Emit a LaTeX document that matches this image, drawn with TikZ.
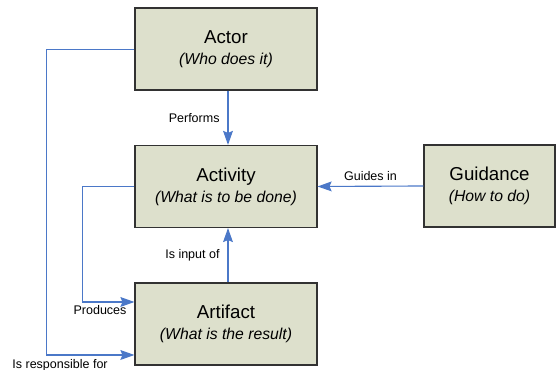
\documentclass[tikz,border=0pt]{standalone}
\usepackage{fontspec}
\setmainfont{Liberation Sans}
\usepackage{tikz}
\usetikzlibrary{arrows.meta}

\definecolor{boxfill}{RGB}{221,224,204}
\definecolor{boxline}{RGB}{50,50,50}
\definecolor{linkblue}{RGB}{75,120,200}

\tikzset{
  concept/.style={draw=boxline, fill=boxfill, line width=0.8pt, minimum width=4.55cm, minimum height=2.05cm, align=center, font=\fontsize{13.3}{15}\selectfont},
  relation/.style={draw=linkblue, line width=0.8pt, arrows = {-Stealth[length=10pt, width=7pt, inset=1.5pt]}},
  rellabel/.style={font=\fontsize{8.9}{10}\selectfont, text=black}
}
\newcommand{\conceptsub}[1]{{\fontsize{11.2}{13}\selectfont\itshape #1}}

\begin{document}
\begin{tikzpicture}
\useasboundingbox (0, 0) rectangle (13.9, 9.25);
\node[concept] (actor) at (5.65, 8.025) {Actor\\ \conceptsub{(Who does it)}};
\node[concept] (activity) at (5.65, 4.5875) {Activity\\ \conceptsub{(What is to be done)}};
\node[concept] (artifact) at (5.65, 1.15) {Artifact\\ \conceptsub{(What is the result)}};
\node[concept, minimum width=3.275cm] (guidance) at (12.2375, 4.6) {Guidance\\ \conceptsub{(How to do)}};
\draw[relation] ([xshift=0.05cm]actor.south) -- ([xshift=0.05cm]activity.north) node[midway, left, rellabel, xshift=-0.08cm] {Performs};
\draw[relation] (guidance.west) -- (activity.east) node[midway, above, rellabel, yshift=0.02cm] {Guides in};
\draw[relation] ([xshift=0.05cm]artifact.north) -- ([xshift=0.05cm]activity.south) node[midway, left, rellabel, xshift=-0.08cm] {Is input of};
\draw[relation] (activity.west) -- ++(-1.3, 0) |- ([yshift=0.55cm]artifact.west) node[anchor=north east, rellabel, inner sep=1pt, xshift=-0.15cm, yshift=-0.03cm] {Produces};
\draw[relation] ([yshift=-0.02cm]actor.west) -- ++(-2.2, 0) |- ([yshift=-0.775cm]artifact.west) node[pos=0.5, anchor=north, rellabel, inner sep=1pt, xshift=0.34cm, yshift=-0.05cm] {Is responsible for};
\end{tikzpicture}
\end{document}
